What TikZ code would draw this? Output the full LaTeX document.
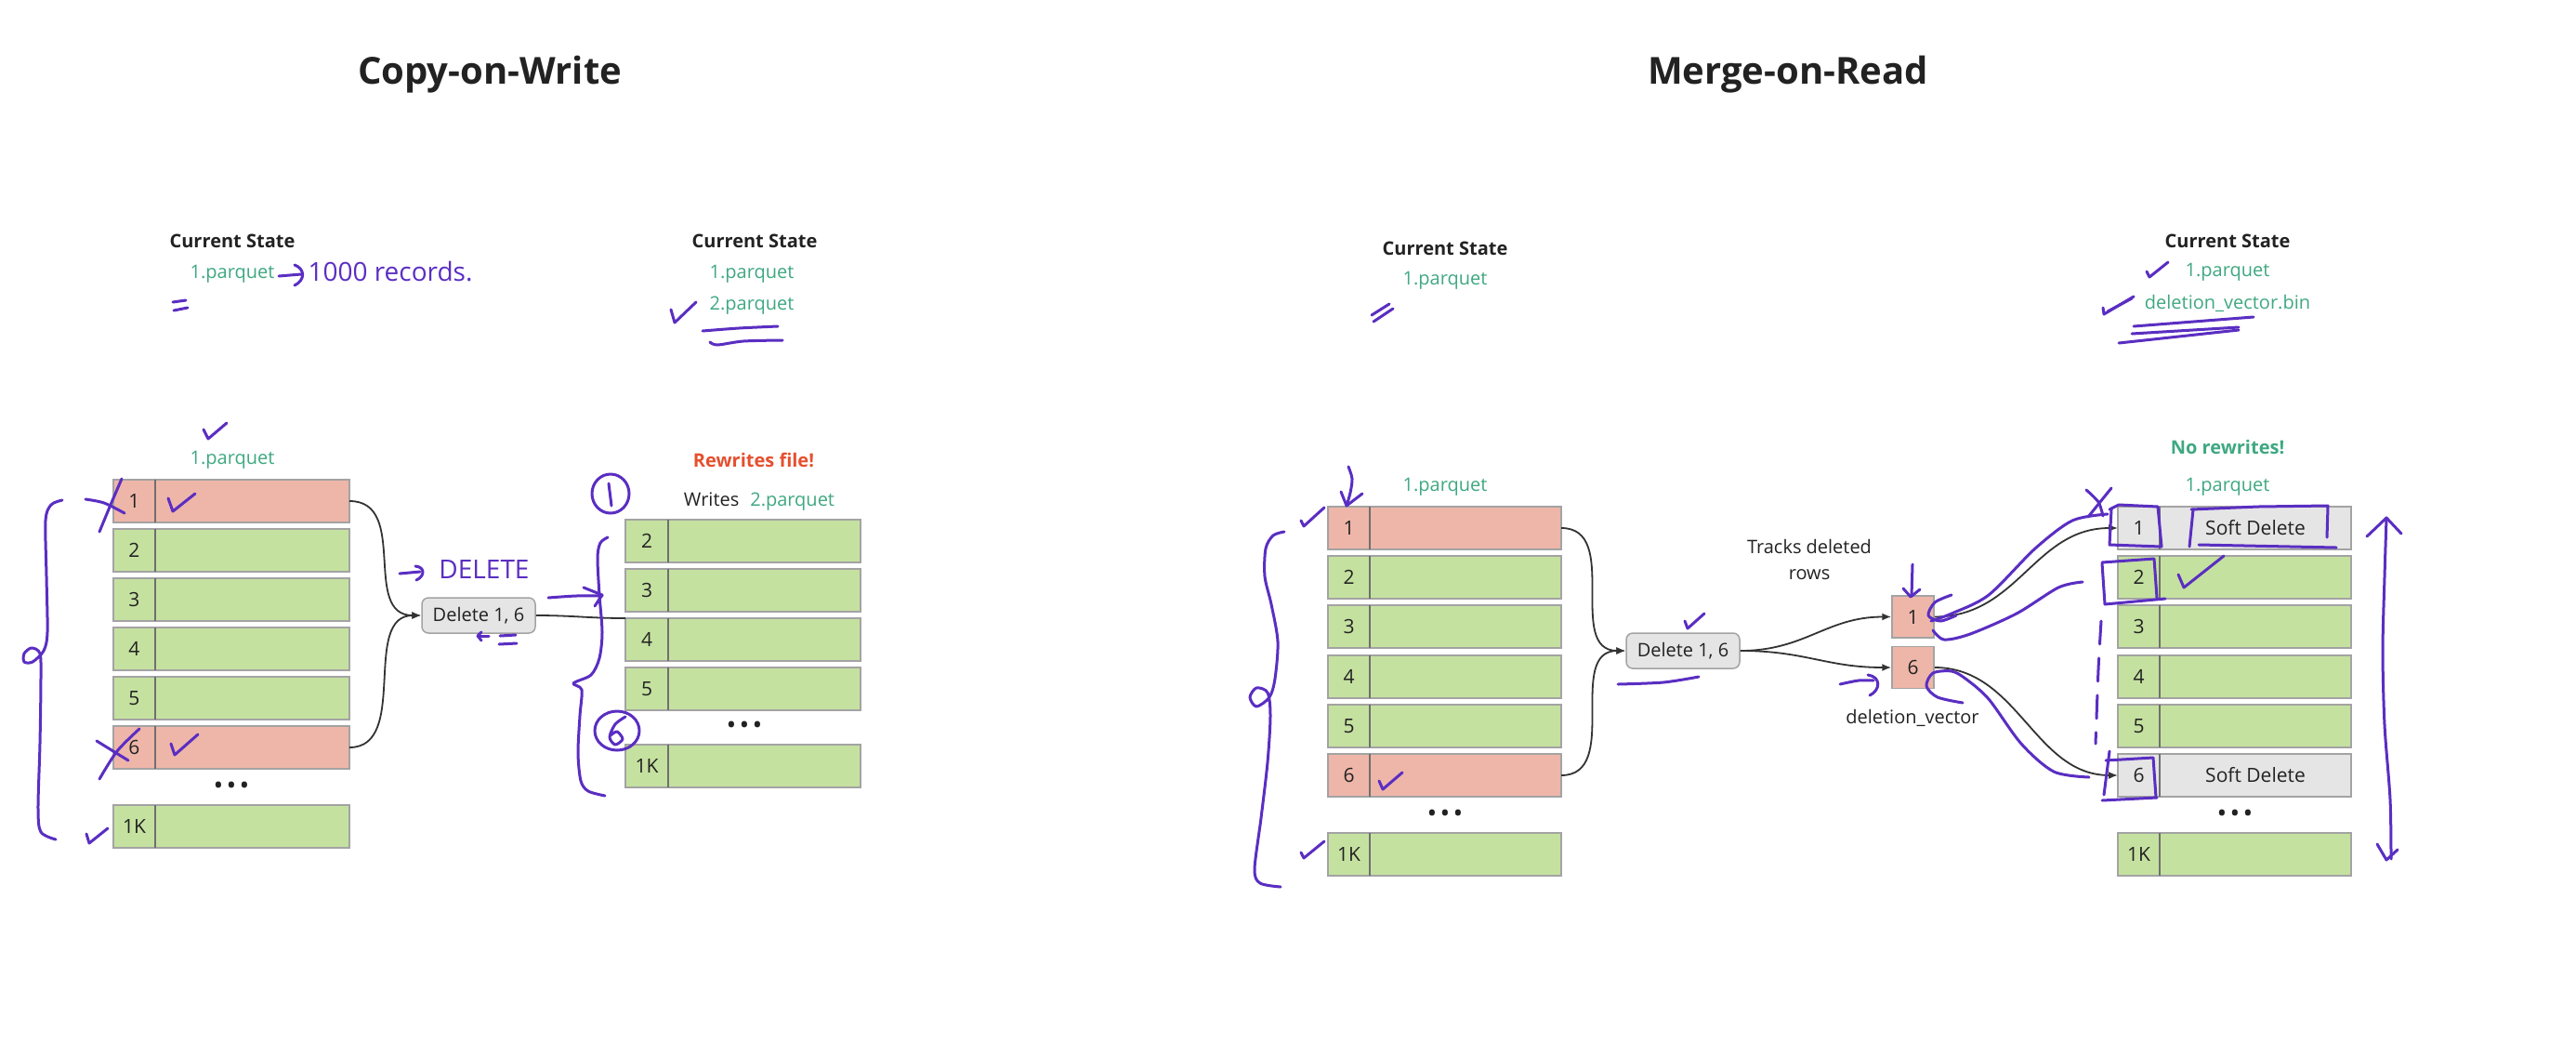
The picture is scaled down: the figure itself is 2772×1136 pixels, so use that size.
\documentclass[tikz,border=0pt]{standalone}
\usepackage{fontspec}
\setmainfont{Open Sans}
\usetikzlibrary{arrows.meta,calc}
\definecolor{redfill}{HTML}{EEB6A9}
\definecolor{greenfill}{HTML}{C5E1A0}
\definecolor{grayfill}{HTML}{E5E5E5}
\definecolor{cellborder}{HTML}{A3A3A3}
\definecolor{splitc}{HTML}{6F6F6F}
\definecolor{txt}{HTML}{222222}
\definecolor{fgreen}{HTML}{3FA882}
\definecolor{fred}{HTML}{E5502E}
\definecolor{penc}{HTML}{5A2EC2}
\definecolor{connc}{HTML}{333333}
\newcommand{\mkrow}[8]{%
  \node[cellbox, fill=#6, minimum width=#4] (#1i) at (#2,#3) {#7};
  \node[cellbox, fill=#6, minimum width=#5] (#1v) at ({#2+#4},#3) {#8};
  \draw[draw=splitc, line width=1.5pt] (#1v.north west) -- (#1v.south west);
}
\begin{document}
\begin{tikzpicture}[x=1pt,y=-1pt,
  cellbox/.style={draw=cellborder, line width=1.5pt, inner sep=0pt, outer sep=0pt,
    minimum height=46pt, text=txt, font=\fontsize{21}{25}\selectfont, anchor=north west},
  lbl/.style={font=\fontsize{20}{24}\selectfont, inner sep=0pt, text=txt},
  hdr/.style={font=\bfseries\fontsize{20}{24}\selectfont, inner sep=0pt, text=txt},
  ttl/.style={font=\bfseries\fontsize{40}{48}\selectfont, inner sep=0pt, text=txt},
  file/.style={lbl, text=fgreen},
  dots/.style={font=\bfseries\fontsize{22}{26}\selectfont, inner sep=0pt, text=txt},
  delbox/.style={draw=cellborder, fill=grayfill, rounded corners=7pt, line width=1.5pt,
    minimum width=122pt, minimum height=38pt, inner sep=0pt, font=\fontsize{20}{24}\selectfont, text=txt},
  vbox/.style={draw=cellborder, fill=redfill, line width=1.5pt, minimum width=45pt,
    minimum height=45pt, inner sep=0pt, font=\fontsize{21}{25}\selectfont, text=txt},
  link/.style={draw=connc, line width=1.8pt},
  arr/.style={link, -{Latex[length=10pt,width=8pt]}},
  penline/.style={draw=penc, line width=3pt, line cap=round, line join=round},
  pentext/.style={text=penc, inner sep=0pt, font=\fontsize{28}{32}\selectfont}
]
\fill[white] (0,0) rectangle (2772,1136);
\useasboundingbox (0,0) rectangle (2772,1136);

% ---------------- Titles ----------------
\node[ttl] (t1) at (527,80) {Copy-on-Write};
\node[ttl] (t2) at (1924,80) {Merge-on-Read};

% ---------------- Copy-on-Write ----------------
\node[hdr] (cs1) at (250,259) {Current State};
\node[file] (cs1f) at (250,295) {1.parquet};
\node[hdr] (cs2) at (812,259) {Current State};
\node[file] (cs2a) at (809,295) {1.parquet};
\node[file] (cs2b) at (809,329) {2.parquet};

\node[file] (cl) at (250,495) {1.parquet};
\mkrow{A1}{122}{516}{45}{209}{redfill}{1}{}
\mkrow{A2}{122}{569}{45}{209}{greenfill}{2}{}
\mkrow{A3}{122}{622}{45}{209}{greenfill}{3}{}
\mkrow{A4}{122}{675}{45}{209}{greenfill}{4}{}
\mkrow{A5}{122}{728}{45}{209}{greenfill}{5}{}
\mkrow{A6}{122}{781}{45}{209}{redfill}{6}{}
\node[dots] (Adots) at (249,847) {• • •};
\mkrow{AK}{122}{866}{45}{209}{greenfill}{1K}{}

\node[delbox] (D1) at (515,662) {Delete 1, 6};

\node[font=\bfseries\fontsize{20}{24}\selectfont, inner sep=0pt, text=fred] (rw) at (811,495) {Rewrites file!};
\node[lbl] (wr) at (817,540) {\textcolor{txt}{Writes}\hspace{12pt}\textcolor{fgreen}{2.parquet}};
\mkrow{B2}{673}{559}{46}{207}{greenfill}{2}{}
\mkrow{B3}{673}{612}{46}{207}{greenfill}{3}{}
\mkrow{B4}{673}{665}{46}{207}{greenfill}{4}{}
\mkrow{B5}{673}{718}{46}{207}{greenfill}{5}{}
\node[dots] (Bdots) at (801,782) {• • •};
\mkrow{BK}{673}{801}{46}{207}{greenfill}{1K}{}

\draw[arr] (A1v.east) .. controls +(65,0) and +(-65,0) .. (D1.west);
\draw[arr] (A6v.east) .. controls +(65,0) and +(-65,0) .. (D1.west);
\draw[link] (D1.east) .. controls +(40,0) and +(-40,0) .. (B4i.north west);

% ---------------- Merge-on-Read ----------------
\node[hdr] (cs3) at (1555,267) {Current State};
\node[file] (cs3f) at (1555,302) {1.parquet};
\node[hdr] (cs4) at (2397,259) {Current State};
\node[file] (cs4a) at (2397,293) {1.parquet};
\node[file] (cs4b) at (2397,326) {deletion\_vector.bin};

\node[file] (ml) at (1555,524) {1.parquet};
\mkrow{C1}{1429}{545}{45}{206}{redfill}{1}{}
\mkrow{C2}{1429}{598}{45}{206}{greenfill}{2}{}
\mkrow{C3}{1429}{651}{45}{206}{greenfill}{3}{}
\mkrow{C4}{1429}{705}{45}{206}{greenfill}{4}{}
\mkrow{C5}{1429}{758}{45}{206}{greenfill}{5}{}
\mkrow{C6}{1429}{811}{45}{206}{redfill}{6}{}
\node[dots] (Cdots) at (1555,877) {• • •};
\mkrow{CK}{1429}{896}{45}{206}{greenfill}{1K}{}

\node[delbox] (D2) at (1811,700) {Delete 1, 6};
\node[lbl, align=center, font=\fontsize{20}{28}\selectfont] (tr) at (1947,602) {Tracks deleted\\rows};
\node[vbox] (V1) at (2058.5,663.5) {1};
\node[vbox] (V6) at (2058.5,718) {6};
\node[lbl] (dv) at (2058,772) {deletion\_vector};

\node[font=\bfseries\fontsize{20}{24}\selectfont, inner sep=0pt, text=fgreen] (nr) at (2397,481) {No rewrites!};
\node[file] (mr) at (2397,524) {1.parquet};
\mkrow{E1}{2279}{545}{45}{206}{grayfill}{1}{Soft Delete}
\mkrow{E2}{2279}{598}{45}{206}{greenfill}{2}{}
\mkrow{E3}{2279}{651}{45}{206}{greenfill}{3}{}
\mkrow{E4}{2279}{705}{45}{206}{greenfill}{4}{}
\mkrow{E5}{2279}{758}{45}{206}{greenfill}{5}{}
\mkrow{E6}{2279}{811}{45}{206}{grayfill}{6}{Soft Delete}
\node[dots] (Edots) at (2405,877) {• • •};
\mkrow{EK}{2279}{896}{45}{206}{greenfill}{1K}{}

\draw[arr] (C1v.east) .. controls +(65,0) and +(-65,0) .. (D2.west);
\draw[arr] (C6v.east) .. controls +(65,0) and +(-65,0) .. (D2.west);
\draw[arr] (D2.east) .. controls +(70,0) and +(-70,0) .. (V1.west);
\draw[arr] (D2.east) .. controls +(70,0) and +(-70,0) .. (V6.west);
\draw[arr] (V1.east) .. controls +(90,0) and +(-90,0) .. (E1i.west);
\draw[arr] (V6.east) .. controls +(90,0) and +(-90,0) .. (E6i.west);

% ---------------- handwritten annotations (CoW) ----------------
\draw[penline] (300,297) -- (324,295);
\draw[penline] (317,285) .. controls (328,289) and (329,301) .. (317,307);
\node[pentext] (rec) at (420,292) {1000 records.};
\draw[penline] (186,325) -- (200,323);
\draw[penline] (187,334) -- (202,331);
\draw[penline] (722,333) -- (726,347) -- (749,325);
\draw[penline] plot[smooth] coordinates {(756,356) (795,353) (837,351)};
\draw[penline] plot[smooth] coordinates {(764,368) (772,371) (800,367) (842,366)};
\draw[penline] (219,462) -- (224,472) -- (244,455);
\draw[penline] plot[smooth] coordinates {(131,515) (119,543) (107,572)};
\draw[penline] plot[smooth] coordinates {(92,537) (112,541) (134,552)};
\draw[penline] (181,536) -- (186,550) -- (210,531);
\draw[penline] plot[smooth] coordinates {(150,784) (126,808) (107,838)};
\draw[penline] (104,797) -- (138,818);
\draw[penline] (184,800) -- (188,812) -- (213,790);
\draw[penline] (93,897) -- (96,907) -- (116,891);
\draw[penline] plot[smooth] coordinates {(67,538) (55,543) (49,560) (50,620) (51,680) (47,700) (35,712) (26,712) (26,703) (34,697) (43,703) (44,730) (43,800) (41,870) (44,895) (60,903)};
\draw[penline] (430,617) -- (452,615);
\draw[penline] (447,609) .. controls (458,610) and (457,620) .. (448,624);
\node[pentext] (del) at (521,612) {DELETE};
\draw[penline] (526,684) -- (514,684);
\draw[penline] (518,680) -- (514,684) -- (518,689);
\draw[penline] (538,684) -- (555,683);
\draw[penline] (537,693) -- (556,692);
\draw[penline] plot[smooth] coordinates {(590,643) (620,641) (648,641)};
\draw[penline] (628,632) -- (648,640) -- (640,652);
\draw[penline] plot[smooth] coordinates {(654,578) (646,584) (643,600) (645,640) (648,680) (645,708) (636,726) (617,735) (626,742) (624,770) (622,810) (625,840) (633,851) (651,856)};
\draw[penline] (657,531) ellipse [x radius=20, y radius=21];
\draw[penline] (655,520) -- (658,544);
\draw[penline] (664,786) ellipse [x radius=24, y radius=21];
\draw[penline] plot[smooth] coordinates {(673,771) (662,779) (656,793) (662,801) (670,795) (664,787) (657,791)};

% ---------------- handwritten annotations (MoR) ----------------
\draw[penline] (1478,346) -- (1499,332);
\draw[penline] (1476,339) -- (1495,327);
\draw[penline] plot[smooth] coordinates {(1451,502) (1455,515) (1453,530) (1449,544)};
\draw[penline] (1443,529) -- (1449,544) -- (1466,531);
\draw[penline] (1400,560) -- (1403,566) -- (1425,546);
\draw[penline] plot[smooth] coordinates {(1382,572) (1370,576) (1362,590) (1361,620) (1368,650) (1375,690) (1372,730) (1366,750) (1352,760) (1345,750) (1352,740) (1364,745) (1367,770) (1364,820) (1357,880) (1350,935) (1356,950) (1378,954)};
\draw[penline] (1484,840) -- (1488,849) -- (1509,831);
\draw[penline] (1400,917) -- (1403,923) -- (1425,905);
\draw[penline] (1813,668) -- (1816,676) -- (1834,660);
\draw[penline] plot[smooth] coordinates {(1741,736) (1790,734) (1828,728)};
\draw[penline] (2058,607) -- (2057,641);
\draw[penline] (2048,633) -- (2056,642) -- (2066,634);
\draw[penline] plot[smooth] coordinates {(1980,736) (2000,732) (2016,732)};
\draw[penline] (2010,726) .. controls (2024,728) and (2024,742) .. (2012,748);
\draw[penline] plot[smooth] coordinates {(2100,640) (2082,648) (2075,662) (2088,668) (2105,662)};
\draw[penline] plot[smooth] coordinates {(2078,668) (2100,660) (2140,640) (2190,590) (2230,560) (2268,553)};
\draw[penline] plot[smooth] coordinates {(2080,678) (2092,688) (2120,682) (2170,660) (2215,632) (2241,626)};
\draw[penline] plot[smooth] coordinates {(2112,756) (2085,750) (2073,738) (2080,724) (2100,722) (2115,730) (2140,752) (2175,800) (2210,830) (2248,836)};
\draw[penline] plot[smooth] coordinates {(2245,527) (2258,540) (2263,555)};
\draw[penline] (2272,525) -- (2247,556);
\draw[penline] (2272,548) -- (2270,586) -- (2326,588) -- (2322,545) -- (2280,543) -- (2270,548);
\draw[penline] (2360,548) -- (2356,588);
\draw[penline] (2358,548) -- (2430,545) -- (2505,544) -- (2504,578);
\draw[penline] (2366,586) -- (2514,589);
\draw[penline] (2262,606) -- (2265,650) -- (2330,644);
\draw[penline] (2262,605) -- (2318,601) -- (2321,643);
\draw[penline] (2344,618) -- (2350,632) -- (2393,598);
\draw[penline, dash pattern=on 25pt off 15pt] plot[smooth] coordinates {(2261,668) (2258,720) (2255,800)};
\draw[penline] (2270,808) -- (2264,855);
\draw[penline] (2266,818) -- (2317,815) -- (2320,858);
\draw[penline] (2262,861) -- (2321,858);
\draw[penline] (2310,292) -- (2313,298) -- (2333,282);
\draw[penline] (2263,331) -- (2264,338) -- (2296,319);
\draw[penline] (2268,335) -- (2294,321);
\draw[penline] (2296,351) -- (2425,341);
\draw[penline] (2294,359) -- (2409,352);
\draw[penline] (2280,369) -- (2409,355);
\draw[penline] plot[smooth] coordinates {(2568,557) (2566,620) (2564,700) (2566,780) (2572,860) (2573,924)};
\draw[penline] (2547,577) -- (2568,557) -- (2584,574);
\draw[penline] (2558,908) -- (2568,925) -- (2580,914);
\end{tikzpicture}
\end{document}
